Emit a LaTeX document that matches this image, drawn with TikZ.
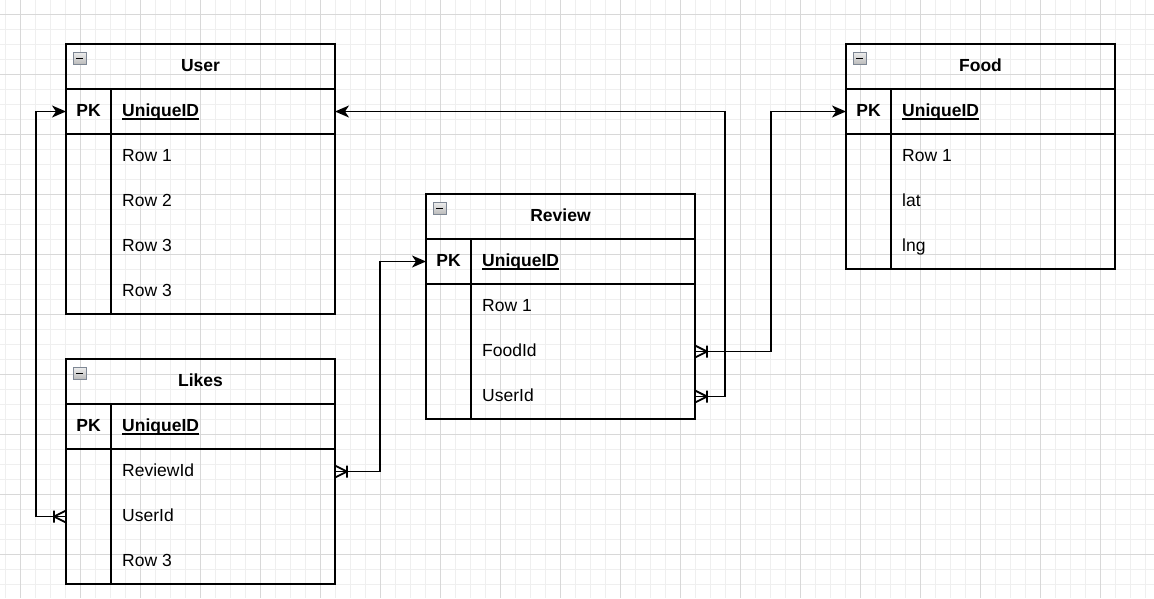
\documentclass[tikz,border=0pt]{standalone}
\usepackage{fontspec}
\setmainfont{Liberation Sans}
\usetikzlibrary{arrows.meta}

\definecolor{gridminor}{HTML}{EFEFEF}
\definecolor{gridmajor}{HTML}{D8D8D8}
\definecolor{iconedge}{HTML}{7E8794}

% underlined key name with a rule close to the baseline
\newcommand\ulkey[1]{\setbox0\hbox{#1}\rlap{\vrule height -2pt depth 3.6pt width \wd0}\box0}

% one entity table: name, left x, top y, title, number of rows, rows
\newcommand\ertable[6]{%
  \node[headbox] (#1-head) at (#2,#3) {};
  \node[titletext] at (#2+134.5,#3+27) {\bfseries #4};
  \draw[iconbox] (#2+7,#3+8.5) rectangle (#2+20,#3+20.5);
  \draw[line width=1.4pt] (#2+10,#3+14.5) -- (#2+17,#3+14.5);
  \node[rowbox, tableline] (#1-pk) at (#2,#3+45) {};
  \node[titletext] at (#2+22.5,#3+72) {\bfseries PK};
  \node[fieldtext] at (#2+56,#3+72) {\bfseries\ulkey{UniqueID}};
  \foreach \r [count=\i] in {#6} {
    \node[rowbox] (#1-r\i) at (#2,#3+45+45*\i) {};
    \node[fieldtext] at (#2+56,#3+72+45*\i) {\r};
  }
  \draw[tableline] (#2,#3+90) rectangle (#2+269,#3+90+45*#5);
  \draw[tableline] (#2+45,#3+45) -- (#2+45,#3+90+45*#5);
}

\begin{document}
\begin{tikzpicture}[x=1pt,y=-1pt,
  font=\fontsize{17.5}{20}\selectfont,
  tableline/.style={draw=black, line width=1.6pt},
  headbox/.style={tableline, rectangle, minimum width=269pt, minimum height=45pt,
    inner sep=0pt, outer sep=0pt, anchor=north west},
  rowbox/.style={rectangle, minimum width=269pt, minimum height=45pt,
    inner sep=0pt, outer sep=0pt, anchor=north west},
  titletext/.style={inner sep=0pt, anchor=base},
  fieldtext/.style={inner sep=0pt, anchor=base west},
  iconbox/.style={draw=iconedge, line width=0.9pt, top color=gray!15, bottom color=gray!55},
  linkline/.style={draw=black, line width=1.8pt},
  link/.style={linkline, -{Stealth[length=14pt,width=12pt,inset=4pt]}},
  crowfoot/.pic={\draw[linkline] (0,-6) -- (12,0) -- (0,6) (12,-6) -- (12,6);}
]
\useasboundingbox (0,0) rectangle (1154,598);

% background grid
\foreach \gx in {5,20,...,1150} \draw[gridminor, line width=1pt] (\gx,0) -- (\gx,598);
\foreach \gy in {14,29,...,598} \draw[gridminor, line width=1pt] (0,\gy) -- (1154,\gy);
\foreach \gx in {20,80,...,1150} \draw[gridmajor, line width=1pt] (\gx,0) -- (\gx,598);
\foreach \gy in {14,74,...,598} \draw[gridmajor, line width=1pt] (0,\gy) -- (1154,\gy);

% entities
\ertable{user}{66}{44}{User}{4}{Row 1,Row 2,Row 3,Row 3}
\ertable{likes}{66}{359}{Likes}{3}{ReviewId,UserId,Row 3}
\ertable{review}{426}{194}{Review}{3}{Row 1,FoodId,UserId}
\ertable{food}{846}{44}{Food}{3}{Row 1,lat,lng}

% relationships
\draw[link] (likes-r2.west) -- ++(-30,0) |- (user-pk.west);
\pic[rotate=180] at (likes-r2.west) {crowfoot};

\draw[link] (likes-r1.east) -- ++(45,0) |- (review-pk.west);
\pic at (likes-r1.east) {crowfoot};

\draw[link] (review-r2.east) -- ++(76,0) |- (food-pk.west);
\pic at (review-r2.east) {crowfoot};

\draw[link] (review-r3.east) -- ++(30,0) |- (user-pk.east);
\pic at (review-r3.east) {crowfoot};
\end{tikzpicture}
\end{document}
